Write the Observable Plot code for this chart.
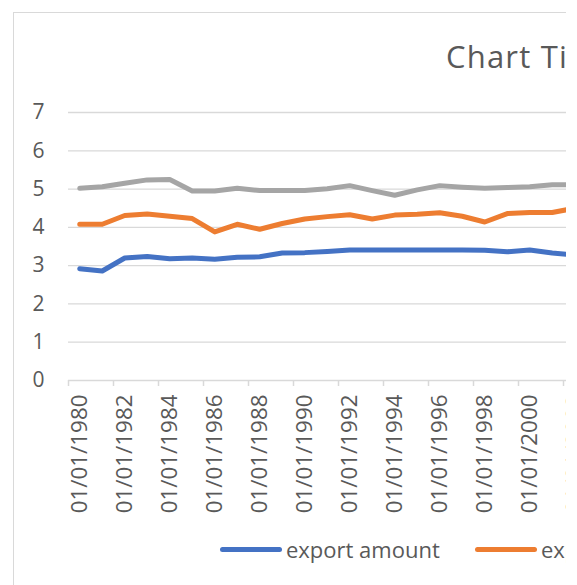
<!DOCTYPE html>
<html>
<head>
<meta charset="utf-8">
<script src="https://cdn.jsdelivr.net/npm/d3@7"></script>
<script src="https://cdn.jsdelivr.net/npm/@observablehq/plot@0.6"></script>
<style>
  html, body { margin: 0; padding: 0; background: #fff; }
  #chart { position: relative; width: 566px; height: 585px; overflow: hidden; font-family: "Open Sans", sans-serif; color: #595959; }
  #border { position: absolute; left: 13px; top: 12px; right: -10px; bottom: -10px; border-left: 1px solid #d9d9d9; border-top: 1px solid #d9d9d9; pointer-events: none; }
  #title { position: absolute; left: 446px; top: 41px; font-size: 31px; line-height: 30px; letter-spacing: 1.2px; white-space: nowrap; }
  .lg { position: absolute; top: 538px; height: 22px; font-size: 22px; line-height: 22px; white-space: nowrap; }
  .sw { position: absolute; top: 9px; height: 5px; width: 62px; border-radius: 3px; }
  .lt { position: absolute; left: 66px; top: 0; }
  #plot { position: absolute; left: 0; top: 0; }
</style>
</head>
<body>
<div id="chart">
  <div id="plot"></div>
  <div id="border"></div>
  <div id="title"></div>
  <div id="legend"></div>
</div>
<script>
const years = [1980,1981,1982,1983,1984,1985,1986,1987,1988,1989,1990,1991,1992,1993,1994,1995,1996,1997,1998,1999,2000,2001,2002];
const dateLabels = years.map(y => "01/01/" + y);

const exportAmount = [2.92,2.86,3.20,3.24,3.18,3.20,3.17,3.22,3.23,3.33,3.34,3.37,3.41,3.41,3.41,3.41,3.41,3.41,3.40,3.36,3.41,3.33,3.28];
const exportPrice  = [4.08,4.08,4.31,4.35,4.29,4.23,3.88,4.08,3.95,4.10,4.22,4.28,4.33,4.22,4.32,4.34,4.38,4.29,4.14,4.36,4.39,4.39,4.50];
const exportValue  = [5.02,5.06,5.15,5.24,5.25,4.95,4.95,5.02,4.96,4.96,4.96,5.01,5.09,4.96,4.84,4.98,5.09,5.05,5.02,5.04,5.06,5.11,5.11];

const seriesNames = ["export amount", "export price", "export value"];
const seriesColors = ["#4472C4", "#ED7D31", "#A5A5A5"];
const yTicks = [0,1,2,3,4,5,6,7];
const gridTicks = [1,2,3,4,5,6,7];
const labelDates = dateLabels.filter((d, i) => i % 2 === 0);
const chartTitle = "Chart Title";

const seriesValues = [exportAmount, exportPrice, exportValue];
const rows = [];
seriesNames.forEach((s, k) => {
  seriesValues[k].forEach((v, i) => rows.push({date: dateLabels[i], value: v, series: s}));
});

const W = 640, H = 585, left = 68, step = 22.5;
const plot = Plot.plot({
  width: W,
  height: H,
  marginLeft: left,
  marginRight: W - (left + step * dateLabels.length),
  marginTop: 112,
  marginBottom: 205,
  style: {fontFamily: "Open Sans, sans-serif", background: "transparent", maxWidth: "none", overflow: "visible"},
  x: {type: "point", domain: dateLabels, padding: 0.5, align: 0.5, round: false, label: null},
  y: {domain: [0, 7], label: null},
  color: {domain: seriesNames, range: seriesColors},
  marks: [
    Plot.gridY(gridTicks, {stroke: "#d9d9d9", strokeOpacity: 1, strokeWidth: 1.3}),
    Plot.ruleY([0], {stroke: "#d9d9d9", strokeWidth: 1.5}),
    Plot.axisX(labelDates, {tickSize: 6, tickFormat: () => "", label: null, dx: -step / 2, stroke: "#d9d9d9", strokeWidth: 1.5, strokeOpacity: 1}),
    Plot.axisY(yTicks, {tickSize: 0, tickPadding: 24, label: null, fontSize: 21, fill: "#595959"}),
    Plot.axisX(labelDates, {tickSize: 0, tickPadding: 14, tickRotate: -90, label: null, fontSize: 22.4, fill: "#595959"}),
    Plot.lineY(rows, {x: "date", y: "value", z: "series", stroke: "series", strokeWidth: 5, strokeLinejoin: "round", strokeLinecap: "round"})
  ]
});
document.getElementById("plot").appendChild(plot);

document.getElementById("title").textContent = chartTitle;

const legendLefts = [220, 475, 730];
const legend = document.getElementById("legend");
seriesNames.forEach((s, k) => {
  const item = document.createElement("div");
  item.className = "lg";
  item.style.left = legendLefts[k] + "px";
  const sw = document.createElement("div");
  sw.className = "sw";
  sw.style.background = seriesColors[k];
  const t = document.createElement("div");
  t.className = "lt";
  t.textContent = s;
  item.appendChild(sw);
  item.appendChild(t);
  legend.appendChild(item);
});
</script>
</body>
</html>
